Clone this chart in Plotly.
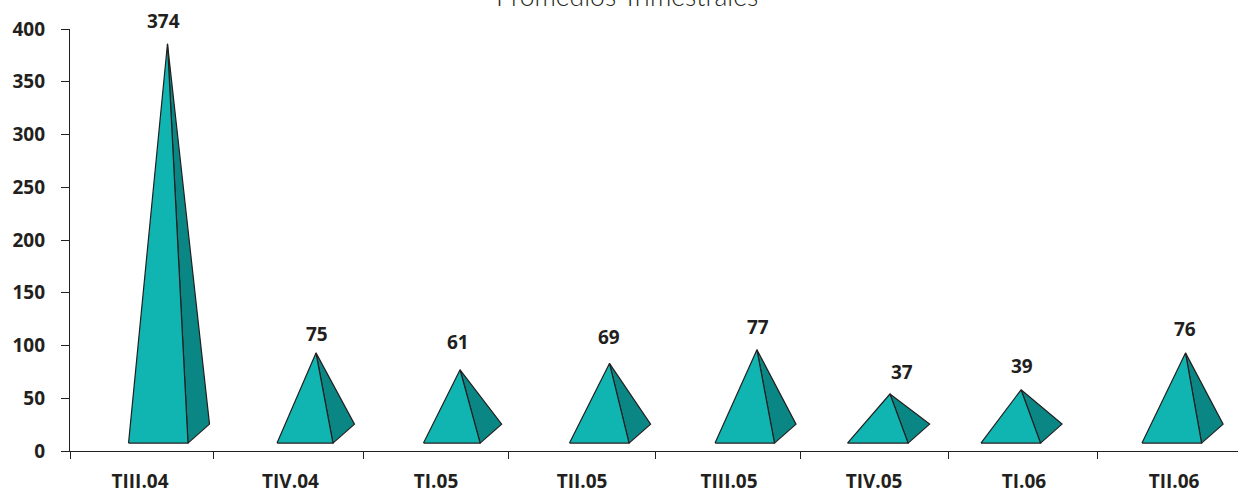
import plotly.graph_objects as go

# --- data ---
categories = ["TIII.04", "TIV.04", "TI.05", "TII.05", "TIII.05", "TIV.05", "TI.06", "TII.06"]
values = [374, 75, 61, 69, 77, 37, 39, 76]
y_ticks = [0, 50, 100, 150, 200, 250, 300, 350, 400]

# --- pyramid drawing geometry (x in category units, y offsets in axis units) ---
BASE_LEFT = [0.397, 1.404, 2.397, 3.387, 4.374, 5.272, 6.177, 7.269]
BASE_RIGHT = [0.800, 1.783, 2.781, 3.791, 4.777, 5.683, 6.581, 7.673]
APEX_X = [0.661, 1.668, 2.645, 3.658, 4.658, 5.560, 6.449, 7.564]
APEX_LIFT = [12, 18, 16, 14, 19, 17, 19, 17]
LABEL_X = [0.637, 1.675, 2.631, 3.655, 4.665, 5.642, 6.455, 7.561]
LABEL_LIFT = [33.6, 36, 42, 39, 41, 38, 42, 40]
TICK_LABEL_X = [0.475, 1.495, 2.482, 3.472, 4.469, 5.452, 6.469, 7.486]
BOUNDARIES = [0, 0.976, 1.99, 2.97, 3.97, 4.95, 5.96, 6.97]
BASE_Y = 7.5
BACK_Y = 25.5
BACK_DX = 0.146
X_RANGE = [0, 7.92]
Y_RANGE = [0, 400]

FRONT = "#10B5B1"
SIDE = "#0A8785"
INK = "#231F20"
FONT = "Open Sans, sans-serif"

fig = go.Figure()
for i, cat in enumerate(categories):
    apex = values[i] + APEX_LIFT[i]
    fig.add_trace(go.Scatter(
        x=[BASE_RIGHT[i], BASE_RIGHT[i] + BACK_DX, APEX_X[i], BASE_RIGHT[i]],
        y=[BASE_Y, BACK_Y, apex, BASE_Y],
        mode="lines", fill="toself", fillcolor=SIDE,
        line=dict(color=INK, width=1.2), name=cat, hoverinfo="skip"))
    fig.add_trace(go.Scatter(
        x=[BASE_LEFT[i], BASE_RIGHT[i], APEX_X[i], BASE_LEFT[i]],
        y=[BASE_Y, BASE_Y, apex, BASE_Y],
        mode="lines", fill="toself", fillcolor=FRONT,
        line=dict(color=INK, width=1.2), name=cat, hoverinfo="skip"))

# invisible carrier so the label axis is active
fig.add_trace(go.Scatter(x=TICK_LABEL_X, y=[0] * len(categories), xaxis="x2",
                         mode="markers", marker=dict(opacity=0), hoverinfo="skip"))

value_labels = [
    dict(text=str(v), x=LABEL_X[i] / X_RANGE[1], y=(v + LABEL_LIFT[i]) / Y_RANGE[1],
         xref="paper", yref="paper", xanchor="center", yanchor="middle", showarrow=False,
         font=dict(family=FONT, size=19, color=INK, weight="bold"))
    for i, v in enumerate(values)
]

fig.update_layout(
    width=1238, height=489, autosize=False,
    margin=dict(l=70, r=0, t=29, b=38, autoexpand=False),
    paper_bgcolor="white", plot_bgcolor="white", showlegend=False,
    xaxis=dict(range=X_RANGE, tickmode="array", tickvals=BOUNDARIES,
               ticktext=[""] * len(BOUNDARIES), ticks="outside", ticklen=7,
               tickwidth=1.2, tickcolor=INK, showline=True, linecolor=INK,
               linewidth=1.2, showgrid=False, zeroline=False, automargin=False),
    xaxis2=dict(range=X_RANGE, overlaying="x", side="bottom", tickmode="array",
                tickvals=TICK_LABEL_X, ticktext=categories, ticks="", ticklen=0,
                ticklabelstandoff=17, showline=False, showgrid=False, zeroline=False,
                automargin=False,
                tickfont=dict(family=FONT, size=19, color=INK, weight="bold")),
    yaxis=dict(range=Y_RANGE, tickmode="array", tickvals=y_ticks, ticks="outside",
               ticklen=8, tickwidth=1.2, tickcolor=INK, showline=True, linecolor=INK,
               linewidth=1.2, showgrid=False, zeroline=False, ticklabelstandoff=12,
               automargin=False,
               tickfont=dict(family=FONT, size=19, color=INK, weight="bold")),
    annotations=value_labels + [
        dict(text="Promedios Trimestrales", xref="paper", yref="paper",
             x=0.4769, y=1, xanchor="center", yanchor="bottom", yshift=15,
             showarrow=False,
             font=dict(family="Lato, sans-serif", size=26.5, color=INK, weight=300))],
)

fig.write_html("out.html", config=dict(displayModeBar=False),
               post_script="document.body.style.margin='0';")
